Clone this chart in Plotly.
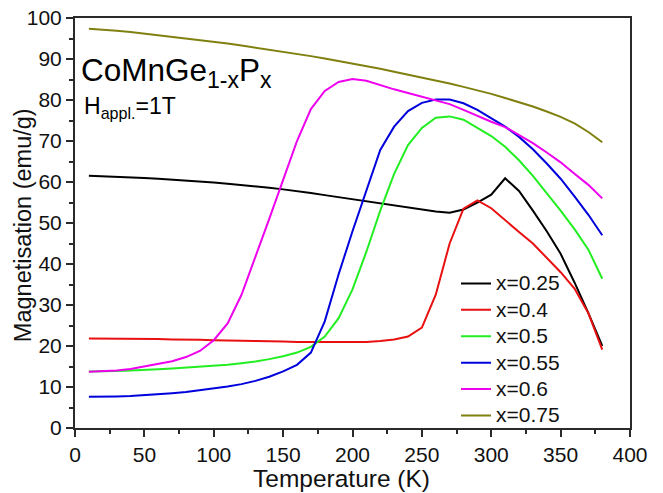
import plotly.graph_objects as go

T = [10, 20, 30, 40, 50, 60, 70, 80, 90, 100, 110, 120, 130, 140, 150, 160, 170, 180, 190,
     200, 210, 220, 230, 240, 250, 260, 270, 280, 290, 300, 310, 320, 330, 340, 350, 360, 370, 380]

m_025 = [61.5, 61.4, 61.3, 61.2, 61.0, 60.8, 60.6, 60.4, 60.2, 59.9, 59.6, 59.3, 59.0, 58.6, 58.2,
         57.8, 57.3, 56.8, 56.3, 55.8, 55.3, 54.7, 54.2, 53.7, 53.2, 52.8, 52.5, 53.3, 55.0, 56.9,
         60.9, 57.8, 53.0, 48.0, 42.5, 35.5, 28.0, 20.0]
m_04 = [21.8, 21.8, 21.8, 21.7, 21.7, 21.7, 21.6, 21.6, 21.5, 21.4, 21.4, 21.3, 21.2, 21.2, 21.1,
        21.0, 21.0, 20.9, 20.9, 20.9, 21.0, 21.2, 21.6, 22.3, 24.5, 32.5, 45.0, 53.5, 55.5, 53.6,
        50.6, 47.8, 45.0, 41.5, 38.0, 34.0, 28.0, 19.1]
m_05 = [13.8, 13.8, 13.9, 14.0, 14.1, 14.3, 14.5, 14.7, 14.9, 15.1, 15.4, 15.8, 16.2, 16.8, 17.5,
        18.4, 19.8, 22.3, 26.8, 33.8, 43.0, 53.0, 62.0, 69.0, 73.2, 75.7, 76.0, 75.2, 73.2, 71.2,
        68.6, 65.3, 61.5, 57.3, 53.0, 48.5, 43.5, 36.4]
m_055 = [7.6, 7.6, 7.7, 7.8, 8.0, 8.2, 8.5, 8.8, 9.2, 9.6, 10.1, 10.7, 11.5, 12.5, 13.8,
         15.4, 18.4, 26.0, 37.5, 48.0, 58.0, 67.8, 73.5, 77.3, 79.3, 80.1, 80.1, 79.2, 77.6, 75.6,
         73.5, 71.0, 68.0, 64.5, 60.8, 56.5, 52.0, 47.0]
m_06 = [13.7, 13.8, 14.0, 14.4, 15.0, 15.6, 16.3, 17.3, 18.8, 21.4, 25.5, 32.5, 41.5, 51.0, 60.5,
        70.0, 77.8, 82.2, 84.4, 85.1, 84.7, 83.6, 82.6, 81.7, 80.8, 80.0, 79.0, 77.6, 76.1, 74.7,
        73.4, 71.5, 69.5, 67.2, 64.8, 62.0, 59.3, 56.0]
m_075 = [97.4, 97.2, 96.9, 96.6, 96.2, 95.9, 95.5, 95.1, 94.7, 94.3, 93.8, 93.3, 92.8, 92.3, 91.8,
         91.3, 90.7, 90.1, 89.5, 88.9, 88.2, 87.6, 86.9, 86.2, 85.5, 84.8, 84.0, 83.2, 82.4, 81.5,
         80.5, 79.5, 78.4, 77.2, 75.9, 74.3, 72.2, 69.7]

names = ["x=0.25", "x=0.4", "x=0.5", "x=0.55", "x=0.6", "x=0.75"]
values = [m_025, m_04, m_05, m_055, m_06, m_075]
colors = ["#000000", "#e81010", "#22ee22", "#0000dd", "#ee00ee", "#808010"]

FONT = "Arial, Liberation Sans, sans-serif"

fig = go.Figure()
for name, vals, col in zip(names, values, colors):
    fig.add_trace(go.Scatter(x=T, y=vals, mode="lines",
                             name="<span style='font-size:21px'>" + name + "</span>",
                             line=dict(color=col, width=2)))

axis_common = dict(showline=True, linecolor="#2a2a2a", linewidth=2, mirror=True,
                   ticks="outside", ticklen=7, tickwidth=1.5, tickcolor="#2a2a2a",
                   showgrid=False, zeroline=False, automargin=False,
                   tickfont=dict(family=FONT, size=21, color="#111111"))

fig.update_xaxes(range=[0, 400], dtick=50, tick0=0,
                 minor=dict(ticks="outside", ticklen=4, tickwidth=1.5, tickcolor="#2a2a2a", dtick=25),
                 **axis_common)
fig.update_yaxes(range=[0, 100], dtick=10, tick0=0,
                 minor=dict(ticks="outside", ticklen=4, tickwidth=1.5, tickcolor="#2a2a2a", dtick=5),
                 **axis_common)

# axis titles
fig.add_annotation(xref="paper", yref="paper", x=0.481, y=-0.123, xanchor="center", yanchor="middle",
                   text="Temperature (K)", showarrow=False,
                   font=dict(family=FONT, size=24.5, color="#111111"))
fig.add_annotation(xref="paper", yref="paper", x=-0.0946, y=0.496, xanchor="center", yanchor="middle",
                   text="Magnetisation (emu/g)", showarrow=False, textangle=-90,
                   font=dict(family=FONT, size=23.5, color="#111111"))

# labels in plot
fig.add_annotation(xref="paper", yref="paper", x=0.008, y=0.922, xanchor="left", yanchor="top",
                   text="CoMnGe<sub><span style='font-size:23px'>1-x</span></sub>P<sub><span style='font-size:23px'>x</span></sub>",
                   showarrow=False,
                   font=dict(family=FONT, size=31.5, color="#000000"))
fig.add_annotation(xref="paper", yref="paper", x=0.012, y=0.822, xanchor="left", yanchor="top",
                   text="H<sub>appl.</sub>=1T", showarrow=False,
                   font=dict(family=FONT, size=23, color="#000000"))

fig.update_layout(
    width=663, height=493,
    margin=dict(l=75, r=33, t=18, b=65),
    paper_bgcolor="white", plot_bgcolor="white",
    font=dict(family=FONT, color="#111111"),
    legend=dict(x=0.6865, y=0.397, xanchor="left", yanchor="top",
                bgcolor="rgba(0,0,0,0)", borderwidth=0,
                font=dict(family=FONT, size=18, color="#111111"),
                tracegroupgap=0),
)

fig.write_html("out.html")
